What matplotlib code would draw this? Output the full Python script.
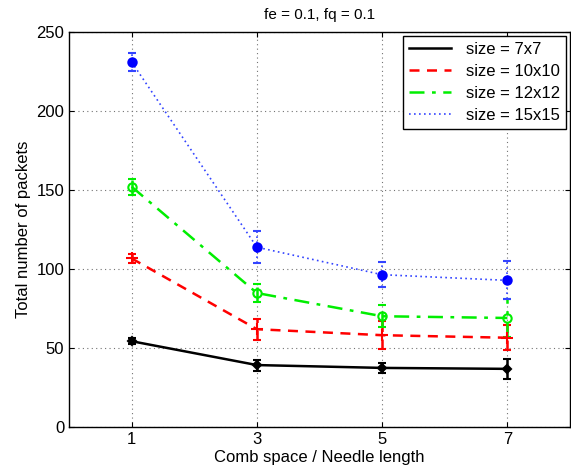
import numpy as np
import matplotlib.pyplot as plt
from matplotlib.lines import Line2D

plt.rcParams['font.family'] = ['Liberation Sans', 'DejaVu Sans']

comb_space = [1, 3, 5, 7]

size_7 = [54.3, 39.2, 37.4, 36.8]
size_7_err = [2.0, 3.5, 3.0, 6.5]
size_10 = [106.7, 61.9, 58.1, 56.5]
size_10_err = [3.0, 6.6, 9.0, 8.0]
size_12 = [152.1, 84.8, 70.1, 69.0]
size_12_err = [5.0, 6.0, 7.0, 12.0]
size_15 = [231.0, 113.8, 96.4, 92.8]
size_15_err = [6.0, 10.0, 8.0, 12.0]

labels = ["size = 7x7", "size = 10x10", "size = 12x12", "size = 15x15"]


def main():
    fig = plt.figure(figsize=(5.71, 4.69), dpi=100)
    ax = fig.add_axes([69 / 571, (469 - 427) / 469, (570 - 69) / 571, (427 - 32) / 469])

    # values, errors, colour, line style, line width, marker, marker colour, size
    series = [
        (size_7, size_7_err, "k", "-", 1.8, "D", "k", 4),
        (size_10, size_10_err, "r", (0, (4, 3)), 1.8, "+", "r", 8),
        (size_12, size_12_err, "#00ee00", (0, (6, 3, 1.5, 3)), 1.8, "o", "none", 6),
        (size_15, size_15_err, "#3344ff", (0, (1, 2)), 1.2, "o", "b", 6),
    ]
    handles = []
    for vals, errs, col, ls, lw, mk, mfc, ms in series:
        mec = col if mfc == "none" else mfc
        c = ax.errorbar(comb_space, vals, yerr=errs, color=col, ls=ls, lw=lw,
                        marker=mk, mfc=mfc, mec=mec, ms=ms, mew=1.5,
                        capsize=3, elinewidth=lw, capthick=1.5)
        for lc in c[2]:
            lc.set_linestyle(ls)
        handles.append(Line2D([], [], color=col, ls=ls, lw=lw))

    ax.set_xlim(0, 8)
    ax.set_ylim(0, 250)
    ax.set_xticks(comb_space)
    ax.set_yticks(np.arange(0, 251, 50))
    ax.grid(True, ls=(0, (1, 3)), color="0.45", lw=0.8)
    ax.tick_params(direction="in", labelsize=12, top=True, right=True)
    for s in ax.spines.values():
        s.set_linewidth(1.0)

    ax.set_xlabel("Comb space / Needle length", fontsize=12, labelpad=2)
    ax.set_ylabel("Total number of packets", fontsize=12)
    ax.set_title("fe = 0.1, fq = 0.1", fontsize=11, pad=9)

    leg = ax.legend(handles, labels, loc="upper right", fontsize=12, fancybox=False,
                    framealpha=1, edgecolor="k", handlelength=2.5, handletextpad=0.9,
                    borderaxespad=0.25, labelspacing=0.42, borderpad=0.35)
    leg.get_frame().set_linewidth(1.0)

    fig.savefig("out.png", dpi=100)


if __name__ == "__main__":
    main()
